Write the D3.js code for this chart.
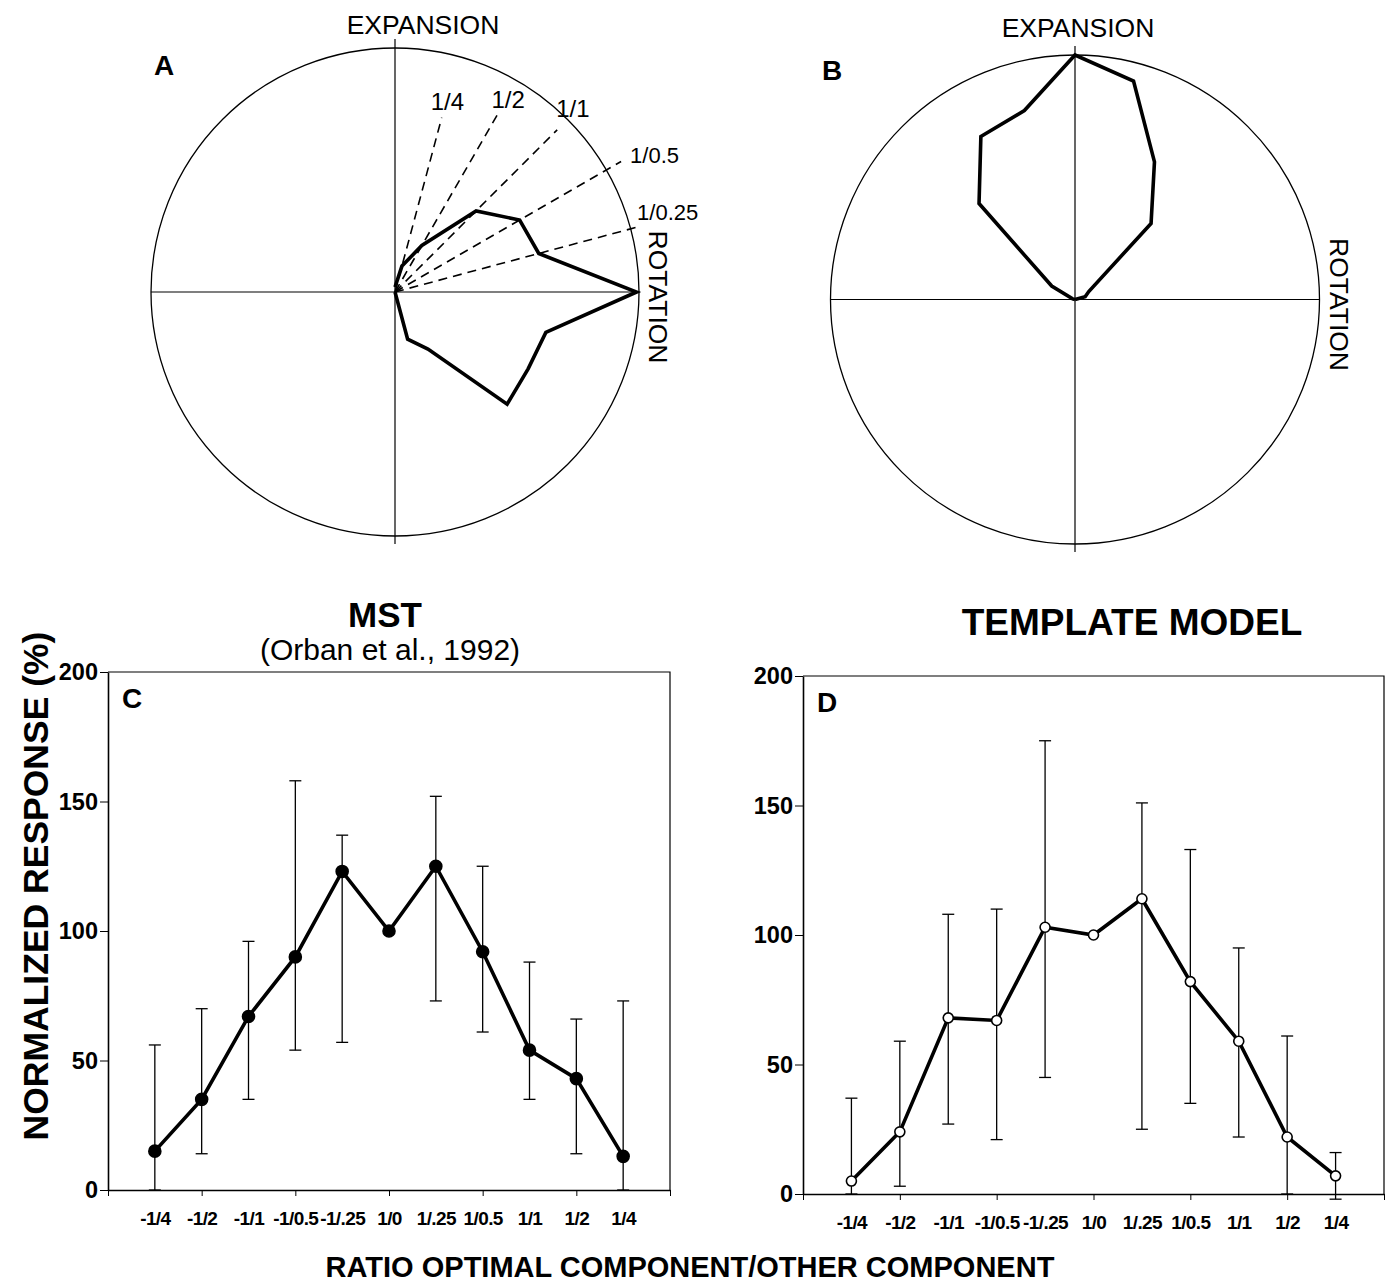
<!DOCTYPE html>
<html>
<head>
<title>MST vs template model</title>
<style>
  body { margin: 0; background: #fff; }
  svg { display: block; }
  text { font-family: "Liberation Sans", Arial, Helvetica, sans-serif; fill: #000; }
</style>
<script src="https://cdn.jsdelivr.net/npm/d3@7"></script>
</head>
<body>
<svg width="1389" height="1286"></svg>
<script>
// ---- data ----
// polar plots: stimulus direction (deg, 0 = rotation, 90 = expansion) and normalized response
var dirsA = [90, 75, 60, 45, 30, 15, 0, -15, -30, -45, -60, -75, -90];
var respA = [0.02, 0.11, 0.22, 0.47, 0.59, 0.61, 0.99, 0.64, 0.63, 0.65, 0.27, 0.20, 0];
var dirsB = [180, 165, 150, 135, 120, 105, 90, 75, 60, 45, 30, 15, 0];
var respB = [0, 0.01, 0.11, 0.555, 0.77, 0.80, 1.0, 0.925, 0.65, 0.44, 0.065, 0.043, 0];
var guideDirs = [75, 60, 45, 30, 15];
var guideLabels = ["1/4", "1/2", "1/1", "1/0.5", "1/0.25"];

// tuning curves
var ratios = ["-1/4", "-1/2", "-1/1", "-1/0.5", "-1/.25", "1/0", "1/.25", "1/0.5", "1/1", "1/2", "1/4"];
var mstMean = [15, 35, 67, 90, 123, 100, 125, 92, 54, 43, 13];
var mstHi   = [56, 70, 96, 158, 137, null, 152, 125, 88, 66, 73];
var mstLo   = [0, 14, 35, 54, 57, null, 73, 61, 35, 14, 0];
var modelMean = [5, 24, 68, 67, 103, 100, 114, 82, 59, 22, 7];
var modelHi   = [37, 59, 108, 110, 175, null, 151, 133, 95, 61, 16];
var modelLo   = [0, 3, 27, 21, 45, null, 25, 35, 22, 0, -2];
var yTicks = [0, 50, 100, 150, 200];

var svg = d3.select("svg");
svg.append("rect").attr("width", 1389).attr("height", 1286).attr("fill", "#fff");

// ---- polar panels ----
function polar(cx, cy, R, dirs, resp, letter, lx, ly, expY, expX) {
  var g = svg.append("g").attr("transform", "translate(" + cx + "," + cy + ")");
  var r = d3.scaleLinear().domain([0, 1]).range([0, R]);
  var ang = function(deg) { return (90 - deg) * Math.PI / 180; };

  g.append("circle").attr("r", R).attr("fill", "none").attr("stroke", "#000").attr("stroke-width", 1.3);
  g.append("line").attr("x1", -R).attr("x2", R).attr("y1", 0).attr("y2", 0)
    .attr("stroke", "#000").attr("stroke-width", 1.2);
  g.append("line").attr("x1", 0).attr("x2", 0).attr("y1", -R - 9).attr("y2", R + 8)
    .attr("stroke", "#000").attr("stroke-width", 1.2);

  var line = d3.lineRadial()
    .angle(function(d, i) { return ang(dirs[i]); })
    .radius(function(d) { return r(d); });
  g.append("path").datum(resp).attr("d", line)
    .attr("fill", "none").attr("stroke", "#000").attr("stroke-width", 3.6)
    .attr("stroke-linejoin", "miter");

  svg.append("text").attr("x", expX).attr("y", expY).attr("text-anchor", "middle")
    .style("font-size", "26.5px").text("EXPANSION");
  g.append("text").attr("transform", "translate(" + (R + 10) + ",5) rotate(90)")
    .attr("text-anchor", "middle").style("font-size", "26.5px").text("ROTATION");
  svg.append("text").attr("x", lx).attr("y", ly).style("font-size", "28px")
    .style("font-weight", "bold").text(letter);
  return { g: g, r: r };
}

var pa = polar(395, 292, 244, dirsA, respA, "A", 154, 75, 34, 423);
polar(1075, 299.5, 244.5, dirsB, respB, "B", 822, 80, 37, 1078);

// dashed ratio guides in A
var guideLen = [0.74, 0.84, 0.94, 1.07, 1.04];
var labelOff = [[-11, -8], [-6, -7], [-1, -13], [9, 2], [-3, -6]];
guideDirs.forEach(function(d, i) {
  var t = d * Math.PI / 180, L = pa.r(guideLen[i]);
  var ex = L * Math.cos(t), ey = -L * Math.sin(t);
  pa.g.append("line").attr("x1", 0).attr("y1", 0).attr("x2", ex).attr("y2", ey)
    .attr("stroke", "#000").attr("stroke-width", 1.6).attr("stroke-dasharray", "9,6");
  pa.g.append("text").attr("x", ex + labelOff[i][0]).attr("y", ey + labelOff[i][1])
    .style("font-size", i < 3 ? "24px" : "22px").text(guideLabels[i]);
});

// ---- tuning curve panels ----
function curve(x0, x1, yTop, yBot, mean, hi, lo, filled, letter) {
  var x = d3.scalePoint().domain(ratios).range([x0, x1]).padding(1);
  var xi = d3.scaleLinear().domain([-1, ratios.length]).range([x0, x1]);
  var y = d3.scaleLinear().domain([0, 200]).range([yBot, yTop]);
  var g = svg.append("g");

  // frame
  g.append("path").attr("d", "M" + x0 + "," + yTop + "H" + x1 + "V" + yBot)
    .attr("fill", "none").attr("stroke", "#000").attr("stroke-width", 1.2);

  var ya = g.append("g").attr("transform", "translate(" + x0 + ",0)")
    .call(d3.axisLeft(y).tickValues(yTicks).tickSize(8).tickPadding(2).tickSizeOuter(0));
  ya.select(".domain").attr("stroke-width", 1.6);
  ya.selectAll("text").style("font-size", "23.5px").style("font-weight", "bold")
    .style("font-family", "'Liberation Sans', Arial, sans-serif");

  var xa = g.append("g").attr("transform", "translate(0," + yBot + ")")
    .call(d3.axisBottom(xi).tickValues(d3.range(-1, ratios.length + 1, 2)).tickSize(6)
      .tickSizeOuter(0).tickFormat(""));
  xa.select(".domain").attr("stroke-width", 1.6);

  var xl = g.append("g").attr("transform", "translate(0," + yBot + ")")
    .call(d3.axisBottom(x).tickSize(0).tickPadding(22));
  xl.select(".domain").remove();
  xl.selectAll("text").style("font-size", "19px").style("font-weight", "bold")
    .style("letter-spacing", "-0.6px")
    .style("font-family", "'Liberation Sans', Arial, sans-serif");

  // error bars
  var idx = d3.range(ratios.length).filter(function(i) { return hi[i] != null; });
  var eb = g.selectAll(".eb").data(idx).enter().append("g").attr("stroke", "#000").attr("stroke-width", 1.3);
  eb.append("line").attr("x1", function(i) { return x(ratios[i]); }).attr("x2", function(i) { return x(ratios[i]); })
    .attr("y1", function(i) { return y(hi[i]); }).attr("y2", function(i) { return y(lo[i]); });
  eb.append("line").attr("x1", function(i) { return x(ratios[i]) - 6; }).attr("x2", function(i) { return x(ratios[i]) + 6; })
    .attr("y1", function(i) { return y(hi[i]); }).attr("y2", function(i) { return y(hi[i]); });
  eb.append("line").attr("x1", function(i) { return x(ratios[i]) - 6; }).attr("x2", function(i) { return x(ratios[i]) + 6; })
    .attr("y1", function(i) { return y(lo[i]); }).attr("y2", function(i) { return y(lo[i]); });

  var line = d3.line().x(function(d, i) { return x(ratios[i]); }).y(function(d) { return y(d); });
  g.append("path").datum(mean).attr("d", line).attr("fill", "none")
    .attr("stroke", "#000").attr("stroke-width", 3.6).attr("stroke-linejoin", "miter");

  g.selectAll(".pt").data(mean).enter().append("circle")
    .attr("cx", function(d, i) { return x(ratios[i]); }).attr("cy", function(d) { return y(d); })
    .attr("r", filled ? 6 : 5)
    .attr("fill", filled ? "#000" : "#fff").attr("stroke", "#000").attr("stroke-width", 1.6);

  g.append("text").attr("x", x0 + 14).attr("y", yTop + 36).style("font-size", "28px")
    .style("font-weight", "bold").text(letter);
}

curve(108, 670, 672, 1190, mstMean, mstHi, mstLo, true, "C");
curve(803, 1384, 676, 1194, modelMean, modelHi, modelLo, false, "D");

// titles and shared labels
svg.append("text").attr("x", 385).attr("y", 627).attr("text-anchor", "middle")
  .style("font-size", "35px").style("font-weight", "bold").text("MST");
svg.append("text").attr("x", 390).attr("y", 660).attr("text-anchor", "middle")
  .style("font-size", "30px").text("(Orban et al., 1992)");
svg.append("text").attr("x", 1132).attr("y", 635).attr("text-anchor", "middle")
  .style("font-size", "37px").style("font-weight", "bold").text("TEMPLATE MODEL");
svg.append("text").attr("transform", "translate(48,886) rotate(-90)").attr("text-anchor", "middle")
  .style("font-size", "35.5px").style("font-weight", "bold").text("NORMALIZED RESPONSE (%)");
svg.append("text").attr("x", 690).attr("y", 1277).attr("text-anchor", "middle")
  .style("font-size", "29px").style("font-weight", "bold").text("RATIO OPTIMAL COMPONENT/OTHER COMPONENT");
</script>
</body>
</html>
